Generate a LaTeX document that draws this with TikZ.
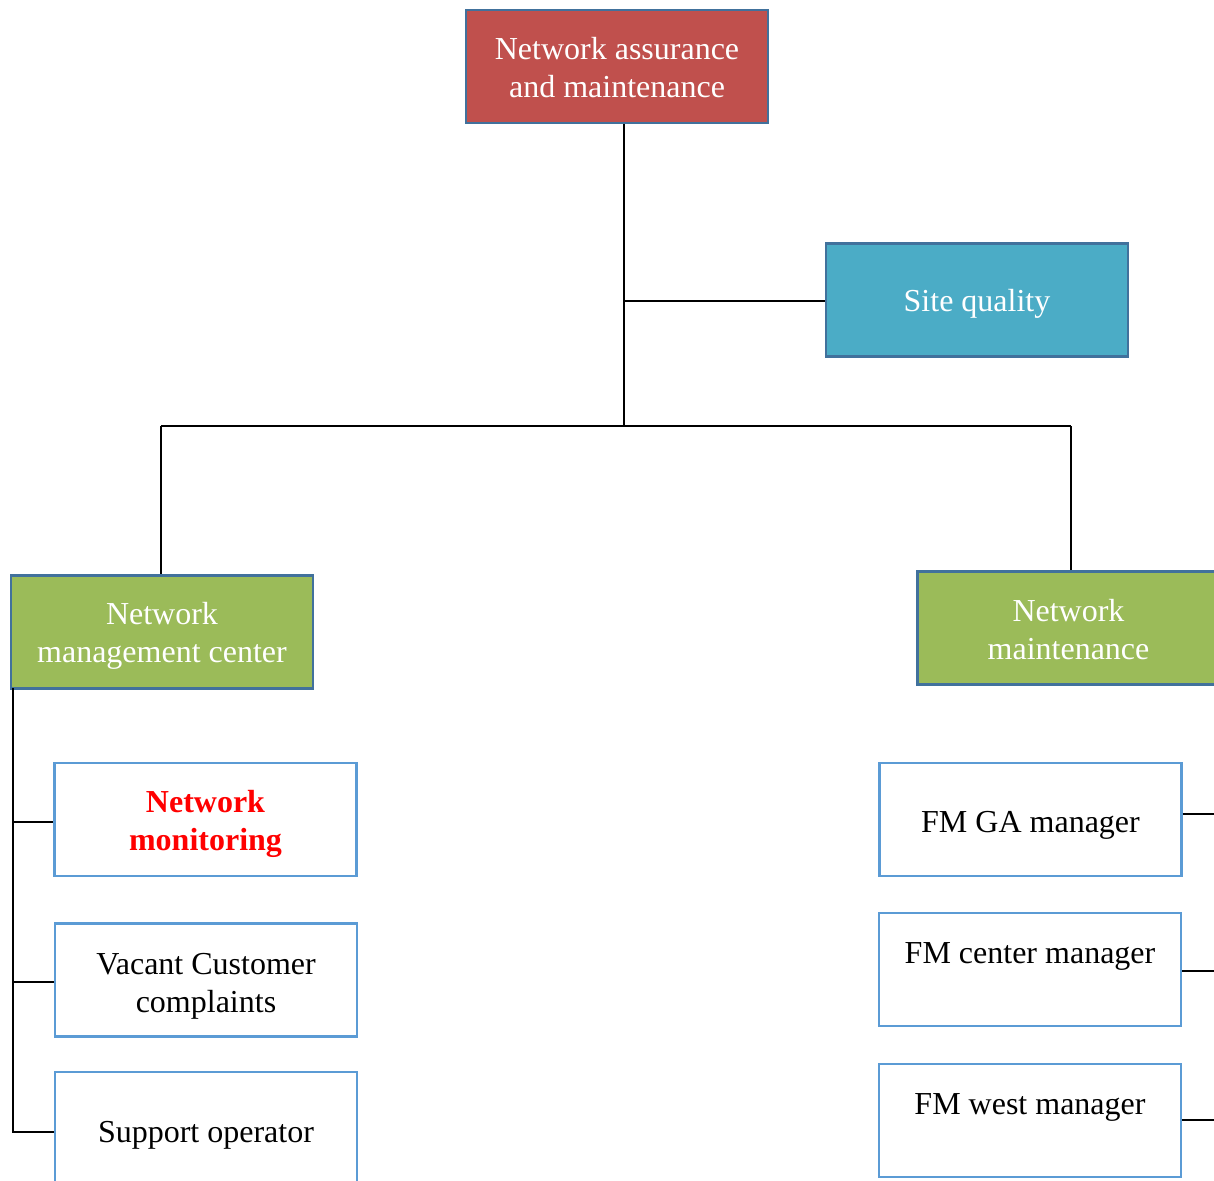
\documentclass[tikz,border=0pt]{standalone}
\usepackage{fontspec}
\setmainfont{Liberation Serif}
\definecolor{redfill}{HTML}{C0504D}
\definecolor{bluefill}{HTML}{4BACC6}
\definecolor{greenfill}{HTML}{9BBB59}
\definecolor{darkborder}{HTML}{41719C}
\definecolor{lightborder}{HTML}{5B9BD5}
\begin{document}
\begin{tikzpicture}[x=1pt,y=-1pt,
  box/.style={rectangle, inner sep=0pt, minimum width=302pt, minimum height=113pt},
  colbox/.style={box, draw=darkborder, line width=2.6pt},
  whitebox/.style={box, draw=lightborder, line width=2.2pt, fill=white},
  txt/.style={inner sep=0pt, align=center, font=\fontsize{32}{38}\selectfont},
  wtxt/.style={txt, text=white},
  conn/.style={draw=black, line width=1.1pt}]
\useasboundingbox (0,0) rectangle (1214,1180);
\clip (0,0) rectangle (1214,1180);
\fill[white] (0,0) rectangle (1214,1180);
% boxes
\node[colbox, fill=redfill] (top) at (617,66.5) {};
\node[colbox, fill=bluefill] (site) at (977,300) {};
\node[colbox, fill=greenfill] (nmc) at (162,632) {};
\node[colbox, fill=greenfill] (nm) at (1068.5,628) {};
\node[whitebox] (mon) at (205.5,819.5) {};
\node[whitebox] (vac) at (206,980) {};
\node[whitebox] (sup) at (206,1128.5) {};
\node[whitebox] (fmga) at (1030.5,819.5) {};
\node[whitebox] (fmc) at (1030,969.5) {};
\node[whitebox] (fmw) at (1030,1120.5) {};
% texts
\node[wtxt] (topt) at ([yshift=-1pt]top.center) {Network assurance\\and maintenance};
\node[wtxt] (sitet) at ([yshift=-4pt]site.center) {Site quality};
\node[wtxt] (nmct) at ([yshift=-4pt]nmc.center) {Network\\management center};
\node[wtxt] (nmt) at ([yshift=-2pt]nm.center) {Network\\maintenance};
\node[txt, font=\fontsize{32}{38}\selectfont\bfseries, text=red] (mont) at ([yshift=-4pt]mon.center) {Network\\monitoring};
\node[txt] (vact) at ([yshift=-6pt]vac.center) {Vacant Customer\\complaints};
\node[txt] (supt) at ([yshift=-7pt]sup.center) {Support operator};
\node[txt] (fmgat) at ([yshift=-6pt]fmga.center) {FM GA manager};
\node[txt] (fmct) at ([yshift=13pt]fmc.center) {FM center manager};
\node[txt] (fmwt) at ([yshift=13pt]fmw.center) {FM west manager};
% junctions
\coordinate (j1) at (624,301);
\coordinate (j2) at (624,426);
\coordinate (hl) at (161,426);
\coordinate (hr) at (1071,426);
\coordinate (bus) at (13,688);
\coordinate (b1) at (13,822);
\coordinate (b2) at (13,982);
\coordinate (busend) at (13,1132);
\coordinate (r1) at (1214,814);
\coordinate (r2) at (1214,971);
\coordinate (r3) at (1214,1120);
% connectors
\draw[conn] (top.south -| j2) -- (j2);
\draw[conn] (j1) -- (j1 -| site.west);
\draw[conn] (hl) -- (hr);
\draw[conn] (hl) -- (hl |- nmc.north);
\draw[conn] (hr) -- (hr |- nm.north);
\draw[conn] (bus) -- (busend) -- (busend -| sup.west);
\draw[conn] (b1) -- (b1 -| mon.west);
\draw[conn] (b2) -- (b2 -| vac.west);
\draw[conn] (r1 -| fmga.east) -- (r1);
\draw[conn] (r2 -| fmc.east) -- (r2);
\draw[conn] (r3 -| fmw.east) -- (r3);
\end{tikzpicture}
\end{document}
